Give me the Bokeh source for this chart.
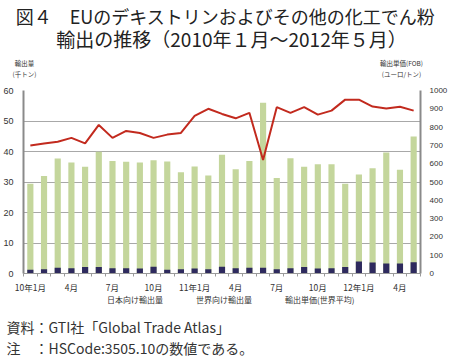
from bokeh.plotting import figure
from bokeh.layouts import column
from bokeh.models import Range1d, LinearAxis, FixedTicker, Label, Legend, LegendItem
from bokeh.embed import file_html
from bokeh.resources import INLINE

# ---- data (2010年1月 ～ 2012年5月) ----
months = list(range(29))
tick_pos = [0, 3, 6, 9, 12, 15, 18, 21, 24, 27]
tick_labels = ["10年1月", "4月", "7月", "10月", "11年1月", "4月", "7月", "10月", "12年1月", "4月"]

world = [29.4, 32.0, 37.7, 36.4, 35.0, 39.9, 36.9, 36.6, 36.4, 37.1, 36.7, 33.2, 35.1, 32.1, 38.9,
         34.2, 36.9, 56.0, 31.3, 37.8, 35.0, 35.8, 35.8, 29.4, 32.5, 34.5, 39.7, 34.0, 44.9]
japan = [1.2, 1.4, 1.9, 1.7, 2.1, 2.1, 1.7, 1.7, 1.6, 2.2, 1.2, 1.4, 1.6, 1.4, 2.2,
         1.7, 1.9, 1.9, 1.4, 1.7, 2.1, 1.6, 1.7, 2.1, 3.9, 3.6, 3.3, 3.3, 3.7]
price = [699, 710, 720, 741, 711, 812, 741, 779, 768, 741, 759, 768, 861, 900, 872,
         848, 878, 620, 909, 878, 909, 868, 890, 950, 950, 912, 902, 911, 890]

JP = "Noto Sans CJK JP"
NUM = "Liberation Sans"
GREEN, NAVY, RED = "#c4d69c", "#2e2a5e", "#c22a1e"
W = 450


def blank(height):
    f = figure(width=W, height=height, output_backend="svg", toolbar_location=None,
               x_range=Range1d(0, W), y_range=Range1d(0, height),
               x_axis_type=None, y_axis_type=None, min_border=0, frame_align=False)
    f.outline_line_color = None
    f.xgrid.visible = False
    f.ygrid.visible = False
    return f


def lab(fig, x, y, t, size, align="center", color="#222222"):
    fig.add_layout(Label(x=x, y=y, x_units="screen", y_units="screen", text=t,
                         text_font=JP, text_font_size=size, text_color=color,
                         text_align=align, text_baseline="middle"))


# ---------- header: title + axis titles ----------
H0 = 83
h = blank(H0)
lab(h, 225, H0 - 15, "図４　EUのデキストリンおよびその他の化工でん粉", "18px")
lab(h, 231, H0 - 38, "輸出の推移（2010年１月～2012年５月）", "19px")
lab(h, 24, H0 - 62, "輸出量", "6.5px", color="#333333")
lab(h, 24, H0 - 73, "(千トン)", "6.5px", color="#333333")
lab(h, 401, H0 - 62, "輸出単価(FOB)", "6.5px", color="#333333")
lab(h, 401, H0 - 73, "(ユーロ/トン)", "6.5px", color="#333333")

# ---------- main chart ----------
H1 = 212
p = figure(width=W, height=H1, output_backend="svg", toolbar_location=None,
           x_range=Range1d(-0.5, 28.5), y_range=Range1d(0, 60),
           min_border_left=0, min_border_right=0, min_border_top=7, min_border_bottom=0,
           frame_align=False)
p.outline_line_color = None
p.extra_y_ranges = {"price": Range1d(0, 1000)}

p.xgrid.visible = False
p.ygrid.grid_line_color = "#a8a8a8"
p.ygrid.grid_line_width = 1

ya = p.yaxis[0]
ya.ticker = FixedTicker(ticks=[0, 10, 20, 30, 40, 50, 60])
ya.axis_line_color = "#8a8a8a"
ya.axis_line_width = 2
ya.major_tick_line_color = None
ya.minor_tick_line_color = None
ya.major_label_text_font = NUM
ya.major_label_text_font_size = "9px"
ya.major_label_text_color = "#333333"
ya.major_label_standoff = 4

ra = LinearAxis(y_range_name="price", ticker=FixedTicker(ticks=list(range(0, 1001, 100))))
ra.axis_line_color = "#8a8a8a"
ra.axis_line_width = 2
ra.major_tick_line_color = None
ra.minor_tick_line_color = None
ra.major_label_text_font = NUM
ra.major_label_text_font_size = "8px"
ra.major_label_text_color = "#333333"
ra.major_label_standoff = 3
p.add_layout(ra, "right")

xa = p.xaxis[0]
xa.ticker = FixedTicker(ticks=tick_pos, minor_ticks=[m - 0.5 for m in range(30)])
xa.major_label_overrides = {t: l for t, l in zip(tick_pos, tick_labels)}
xa.axis_line_color = "#9a9a9a"
xa.axis_line_width = 1
xa.major_tick_line_color = None
xa.major_tick_out = 0
xa.major_tick_in = 0
xa.minor_tick_line_color = "#9a9a9a"
xa.minor_tick_out = 3
xa.minor_tick_in = 0
xa.major_label_text_font = JP
xa.major_label_text_font_size = "8.5px"
xa.major_label_text_color = "#333333"
xa.major_label_standoff = 4

p.vbar(x=months, top=world, width=0.45, fill_color=GREEN, line_color=None)
p.vbar(x=months, top=japan, width=0.45, fill_color=NAVY, line_color=None)
p.line(x=months, y=price, y_range_name="price", line_color=RED, line_width=2)

# ---------- footer: legend + notes ----------
H2 = 363 - H0 - H1
q = blank(H2)
k_japan = q.vbar(x=[], top=[], width=1, fill_color=NAVY, line_color=None)
k_world = q.vbar(x=[], top=[], width=1, fill_color=GREEN, line_color=None)
k_price = q.line(x=[], y=[], line_color=RED, line_width=2)
leg = Legend(items=[LegendItem(label="日本向け輸出量", renderers=[k_japan]),
                    LegendItem(label="世界向け輸出量", renderers=[k_world]),
                    LegendItem(label="輸出単価(世界平均)", renderers=[k_price])],
             location=(95, H2 - 10), orientation="horizontal")
leg.border_line_color = None
leg.background_fill_alpha = 0
leg.padding = 0
leg.margin = 0
leg.spacing = 21
leg.glyph_width = 11
leg.glyph_height = 7
leg.label_height = 10
leg.label_standoff = 1
leg.label_text_font = JP
leg.label_text_font_size = "8px"
leg.label_text_color = "#333333"
q.add_layout(leg, "center")

lab(q, 6, 363 - 326, "資料：GTI社「Global Trade Atlas」", "14px", align="left", color="#333333")
lab(q, 6, 363 - 347, "注　：HSCode:3505.10の数値である。", "14px", align="left", color="#333333")

open("out.html", "w").write(file_html(column(h, p, q, spacing=0), INLINE))
